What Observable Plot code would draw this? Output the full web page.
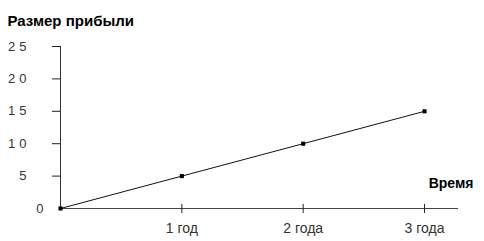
<!DOCTYPE html>
<html><head><meta charset="utf-8">
<script src="https://cdn.jsdelivr.net/npm/d3@7"></script>
<script src="https://cdn.jsdelivr.net/npm/@observablehq/plot@0.6"></script>
<style>
body{margin:0;background:#fff;}
svg{font-family:"Liberation Sans",Arial,sans-serif;}
</style>
</head><body><div id="chart"></div>
<script>
const years = [0, 1, 2, 3];
const profit = [0, 5, 10, 15];
const xTickValues = [1, 2, 3];
const xTickLabels = ["1 год", "2 года", "3 года"];
const yTickValues = [5, 10, 15, 20, 25];
const yTitle = "Размер прибыли";
const xTitle = "Время";

const data = years.map((t, i) => ({t, p: profit[i]}));

const W = 484, H = 241, ML = 60, MR = 26, MT = 46, MB = 33;
const frameH = H - MT - MB;

const chart = Plot.plot({
  width: W,
  height: H,
  marginLeft: ML,
  marginRight: MR,
  marginTop: MT,
  marginBottom: MB,
  style: {fontFamily: "Liberation Sans, Arial, sans-serif", background: "#fff", color: "#222", overflow: "visible"},
  x: {domain: [0, 3.28], axis: null},
  y: {domain: [0, 25], axis: null},
  marks: [
    Plot.ruleX([0], {stroke: "#333", strokeWidth: 1}),
    Plot.ruleY([0], {stroke: "#444", strokeWidth: 1}),
    // y tick marks (shortened to a stub left of the axis below)
    Plot.ruleY(yTickValues, {y: d => d, stroke: "#222", strokeWidth: 1, className: "ytick"}),
    // x tick marks: short vertical strokes crossing the axis
    Plot.ruleX(xTickValues, {x: d => d, insetTop: frameH - 9, dy: 5, stroke: "#222", strokeWidth: 1}),
    Plot.text(yTickValues, {x: 0, y: d => d, text: d => String(d), dx: -30, textAnchor: "end", fontSize: 13, fill: "#333", className: "ytl"}),
    Plot.text([0], {x: 0, y: d => d, text: d => String(d), dx: -17, textAnchor: "end", fontSize: 13, fill: "#333"}),
    Plot.axisX({ticks: xTickValues, tickSize: 0, tickPadding: 15, tickFormat: (d, i) => xTickLabels[i], fontSize: 14, label: null, fill: "#333"}),
    Plot.line(data, {x: "t", y: "p", stroke: "#111", strokeWidth: 1}),
    Plot.dot(data, {x: "t", y: "p", symbol: "square", r: 2.3, fill: "#000", stroke: "none"}),
    Plot.text([yTitle], {frameAnchor: "top-left", dx: -53, dy: -31, textAnchor: "start", fontWeight: "bold", fontSize: 15, fill: "#000"}),
    Plot.text([xTitle], {frameAnchor: "bottom-right", dx: 15, dy: -21, textAnchor: "end", fontWeight: "bold", fontSize: 14, fill: "#000"})
  ]
});
document.getElementById("chart").appendChild(chart);
// widen the spacing between digits of the y tick labels, as in the reference
d3.select(chart).selectAll(".ytl text").style("letter-spacing", "4px");
// shorten the y tick strokes to a short stub left of the axis
d3.select(chart).selectAll(".ytick line").attr("x1", ML - 8).attr("x2", ML);
</script>
</body></html>
